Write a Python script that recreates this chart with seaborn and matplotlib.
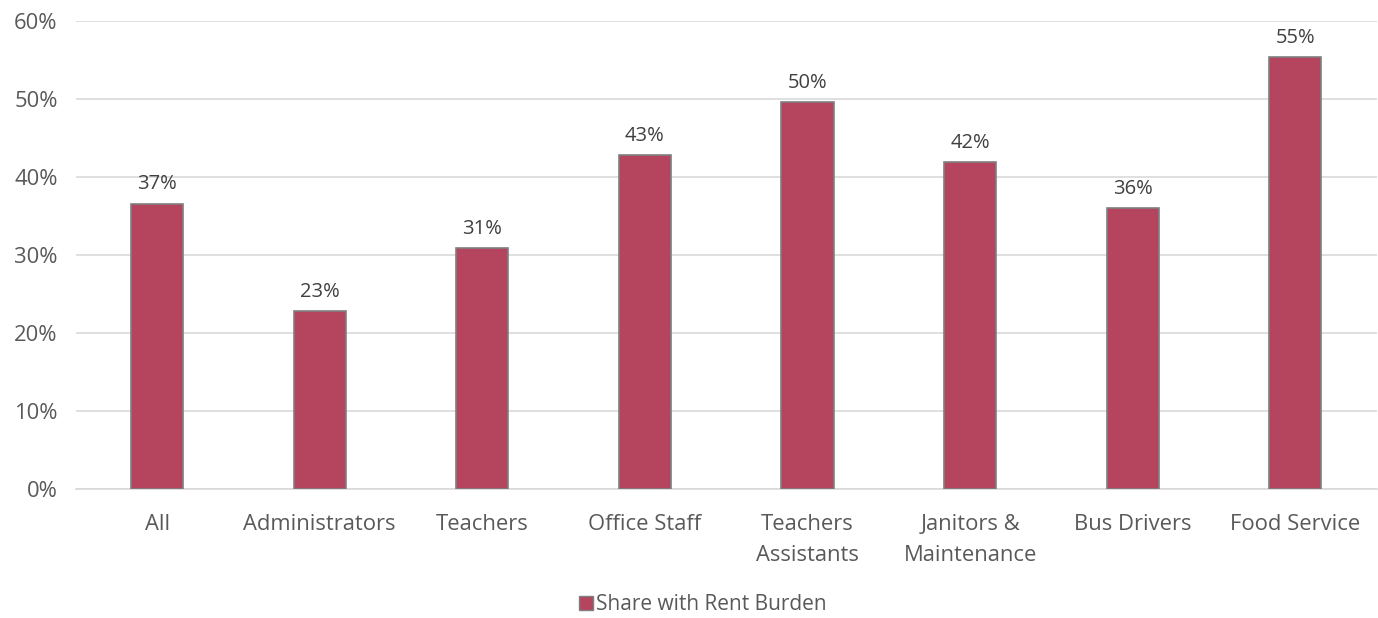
import matplotlib
matplotlib.use('Agg')
import matplotlib.pyplot as plt
import seaborn as sns
import pandas as pd
from matplotlib.ticker import PercentFormatter
from matplotlib.patches import Patch

categories = ['All', 'Administrators', 'Teachers', 'Office Staff', 'Teachers\nAssistants',
              'Janitors &\nMaintenance', 'Bus Drivers', 'Food Service']
share = [0.366, 0.228, 0.309, 0.428, 0.496, 0.419, 0.360, 0.554]
series_name = 'Share with Rent Burden'

sns.set_style('white')
plt.rcParams['font.family'] = ['Open Sans', 'DejaVu Sans']

bar_color = '#B5455E'
text_color = '#595959'

df = pd.DataFrame({'Category': categories, 'Share': share})

fig = plt.figure(figsize=(13.78, 6.18), dpi=100)
ax = fig.add_axes([0.055, 0.2087, 0.944, 0.7573])
sns.barplot(data=df, x='Category', y='Share', color=bar_color, saturation=1,
            width=0.32, edgecolor='#7f7f7f', linewidth=1.2, ax=ax, zorder=3)

for i, v in enumerate(share):
    ax.text(i, v + 0.012, f'{v:.0%}', ha='center', va='bottom', fontsize=14.5, color='#404040')

ax.set_ylim(0, 0.6)
ax.set_yticks([0, 0.1, 0.2, 0.3, 0.4, 0.5, 0.6])
ax.yaxis.set_major_formatter(PercentFormatter(1.0, decimals=0))
ax.grid(axis='y', color='#d9d9d9', linewidth=1.2, zorder=0)
ax.set_xlim(-0.5, len(categories) - 0.5)
ax.set_xlabel('')
ax.set_ylabel('')
for s in ['top', 'right', 'left']:
    ax.spines[s].set_visible(False)
ax.spines['bottom'].set_color('#d9d9d9')
ax.spines['bottom'].set_linewidth(1.2)
ax.tick_params(axis='both', length=0, labelsize=15.8, colors=text_color)
ax.tick_params(axis='x', pad=18)
ax.tick_params(axis='y', pad=13)
for lbl in ax.get_xticklabels():
    lbl.set_linespacing(1.6)

handle = Patch(facecolor=bar_color, edgecolor='#7f7f7f', label=series_name)
fig.legend(handles=[handle], loc='lower center', bbox_to_anchor=(0.51, -0.026), frameon=False,
           fontsize=15, handlelength=0.7, handleheight=0.7, handletextpad=0.15,
           labelcolor=text_color)

fig.savefig('out.png', dpi=100)
